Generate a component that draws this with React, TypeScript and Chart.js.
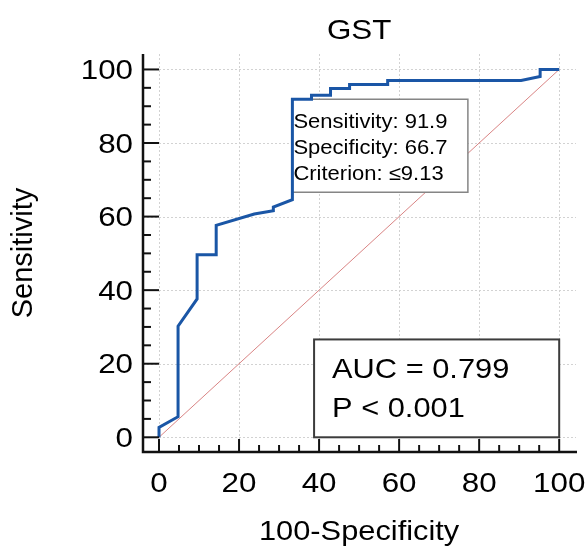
import { useEffect, useRef } from 'react';
import { Chart, registerables } from 'chart.js';

Chart.register(...registerables);

// ROC curve (100-Specificity vs Sensitivity)
const fpr = [0, 0, 4.76, 4.76, 9.52, 9.52, 14.29, 14.29, 23.81, 28.57, 28.57, 33.33, 33.33, 38.1, 38.1, 42.86, 42.86, 47.62, 47.62, 57.14, 57.14, 90.48, 95.24, 95.24, 100];
const sens = [0, 2.7, 5.6, 30.2, 37.6, 49.6, 49.6, 57.6, 60.7, 61.6, 62.6, 64.6, 91.9, 91.9, 93.0, 93.0, 94.8, 94.8, 95.9, 95.9, 97.0, 97.0, 98.1, 100, 100];
const diagX = [0, 100];
const diagY = [0, 100];

const majorTicks = [0, 20, 40, 60, 80, 100];
const minorTicks = [5, 10, 15, 25, 30, 35, 45, 50, 55, 65, 70, 75, 85, 90, 95];

const titleText = 'GST';
const xTitle = '100-Specificity';
const yTitle = 'Sensitivity';
const criterionLines = ['Sensitivity: 91.9', 'Specificity: 66.7', 'Criterion: \u22649.13'];
const criterionPoint = { x: 33.33, y: 91.9 };
const aucLines = ['AUC = 0.799', 'P < 0.001'];
const aucBox = { x0: 38.75, x1: 100, y0: 0, y1: 26.6 };

const FONT = '"Liberation Sans", Arial, Helvetica, sans-serif';
const SX = 1.1;

function txt(ctx: CanvasRenderingContext2D, text: string, x: number, y: number, size: number, align: CanvasTextAlign) {
  ctx.save();
  ctx.font = `${size}px ${FONT}`;
  ctx.textAlign = align;
  ctx.textBaseline = 'alphabetic';
  ctx.fillStyle = '#000';
  ctx.translate(x, y);
  ctx.scale(SX, 1);
  ctx.fillText(text, 0, 0);
  ctx.restore();
}

const decor = {
  id: 'rocDecor',
  beforeDatasetsDraw(chart: any) {
    const { ctx, chartArea, scales } = chart;
    const { left, right, top, bottom } = chartArea;
    const xs = scales.x, ys = scales.y;
    ctx.save();
    ctx.strokeStyle = '#d2d2d2';
    ctx.lineWidth = 1;
    ctx.setLineDash([2, 2]);
    for (const v of majorTicks) {
      const px = Math.round(xs.getPixelForValue(v)) + 0.5;
      ctx.beginPath(); ctx.moveTo(px, top); ctx.lineTo(px, bottom); ctx.stroke();
      const py = Math.round(ys.getPixelForValue(v)) + 0.5;
      ctx.beginPath(); ctx.moveTo(left, py); ctx.lineTo(right, py); ctx.stroke();
    }
    ctx.restore();
  },
  afterDatasetDraw(chart: any, args: any) {
    if (args.index !== 1) return;
    const { ctx, scales } = chart;
    const xs = scales.x, ys = scales.y;
    const l = xs.getPixelForValue(criterionPoint.x) - 0.5;
    const t = ys.getPixelForValue(criterionPoint.y);
    const w = 176, h = 93;
    ctx.save();
    ctx.fillStyle = '#fff';
    ctx.fillRect(l, t, w, h);
    ctx.strokeStyle = '#858585';
    ctx.lineWidth = 1.5;
    ctx.strokeRect(l, t, w, h);
    ctx.restore();
    criterionLines.forEach((s, i) => txt(ctx, s, l + 1.5, t + 29 + i * 26, 20, 'left'));
  },
  afterDatasetsDraw(chart: any) {
    const { ctx, chartArea, scales } = chart;
    const { left, right, top, bottom } = chartArea;
    const xs = scales.x, ys = scales.y;

    // AUC box
    const bl = xs.getPixelForValue(aucBox.x0), br = xs.getPixelForValue(aucBox.x1);
    const bt = ys.getPixelForValue(aucBox.y1), bb = ys.getPixelForValue(aucBox.y0);
    ctx.save();
    ctx.fillStyle = '#fff';
    ctx.fillRect(bl, bt, br - bl, bb - bt);
    ctx.strokeStyle = '#3c3c3c';
    ctx.lineWidth = 2;
    ctx.strokeRect(bl, bt, br - bl, bb - bt);
    ctx.restore();
    aucLines.forEach((s, i) => txt(ctx, s, bl + 18, bt + 39 + i * 39, 28, 'left'));

    // axes
    ctx.save();
    ctx.strokeStyle = '#111';
    ctx.lineWidth = 2.5;
    ctx.beginPath();
    ctx.moveTo(left, top);
    ctx.lineTo(left, bottom);
    ctx.lineTo(right + 1, bottom);
    ctx.stroke();

    ctx.lineWidth = 2;
    for (const v of majorTicks) {
      const py = ys.getPixelForValue(v);
      ctx.beginPath(); ctx.moveTo(left, py); ctx.lineTo(left + 16, py); ctx.stroke();
      const px = xs.getPixelForValue(v);
      ctx.beginPath(); ctx.moveTo(px, bottom); ctx.lineTo(px, bottom - 13); ctx.stroke();
    }
    for (const v of minorTicks) {
      const py = ys.getPixelForValue(v);
      ctx.beginPath(); ctx.moveTo(left, py); ctx.lineTo(left + 8, py); ctx.stroke();
      const px = xs.getPixelForValue(v);
      ctx.beginPath(); ctx.moveTo(px, bottom); ctx.lineTo(px, bottom - 7); ctx.stroke();
    }
    ctx.restore();

    // tick labels
    for (const v of majorTicks) {
      txt(ctx, String(v), left - 10, ys.getPixelForValue(v) + 9.5, 28.5, 'right');
      txt(ctx, String(v), xs.getPixelForValue(v), bottom + 40, 28.5, 'center');
    }

    // titles
    const cx = (xs.getPixelForValue(0) + xs.getPixelForValue(100)) / 2;
    txt(ctx, titleText, cx, 39, 28.5, 'center');
    txt(ctx, xTitle, cx, bottom + 88, 28, 'center');
    ctx.save();
    ctx.font = `29px ${FONT}`;
    ctx.textAlign = 'center';
    ctx.textBaseline = 'alphabetic';
    ctx.fillStyle = '#000';
    ctx.translate(32, (top + bottom) / 2);
    ctx.rotate(-Math.PI / 2);
    ctx.fillText(yTitle, 0, 0);
    ctx.restore();
  },
};

export default function App() {
  const ref = useRef<HTMLCanvasElement>(null);
  useEffect(() => {
    if (!ref.current) return;
    const chart = new Chart(ref.current, {
      type: 'line',
      data: {
        datasets: [
          {
            data: fpr.map((v, i) => ({ x: v, y: sens[i] })),
            borderColor: '#1a56a6',
            borderWidth: 3,
            pointRadius: 0,
            fill: false,
            tension: 0,
          },
          {
            data: diagX.map((v, i) => ({ x: v, y: diagY[i] })),
            borderColor: 'rgba(210,110,110,0.85)',
            borderWidth: 1,
            pointRadius: 0,
            fill: false,
          },
        ],
      },
      options: {
        animation: false,
        responsive: false,
        maintainAspectRatio: false,
        layout: { padding: { left: 143, top: 54, right: 11, bottom: 94 } },
        plugins: { legend: { display: false }, tooltip: { enabled: false }, title: { display: false } },
        scales: {
          x: { type: 'linear', min: -4, max: 104.2, display: false },
          y: { type: 'linear', min: -4, max: 104.2, display: false },
        },
      },
      plugins: [decor],
    });
    return () => chart.destroy();
  }, []);
  return (
    <div style={{ position: 'absolute', left: 0, top: 0, width: 587, height: 546, background: '#fff' }}>
      <canvas ref={ref} width={587} height={546} style={{ width: 587, height: 546, display: 'block' }} />
    </div>
  );
}
